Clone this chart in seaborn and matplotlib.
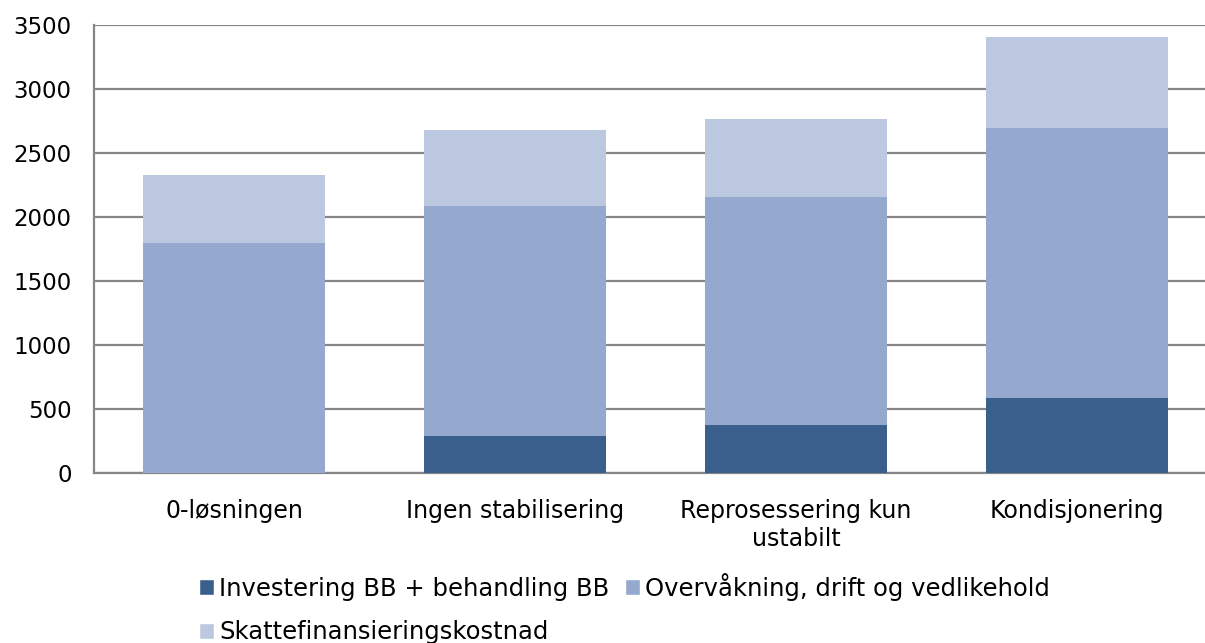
import numpy as np
import pandas as pd
import matplotlib
matplotlib.use("Agg")
import matplotlib.pyplot as plt
from matplotlib.patches import Patch
import seaborn as sns

sns.set_style("white")
plt.rcParams['font.family'] = ['DejaVu Sans']

categories = ['0-løsningen', 'Ingen stabilisering', 'Reprosessering kun\nustabilt', 'Kondisjonering']
investering = [0, 290, 375, 583]
overvaakning = [1800, 1798, 1784, 2112]
skatt = [528, 594, 609, 714]

series_names = ['Investering BB + behandling BB', 'Overvåkning, drift og vedlikehold', 'Skattefinansieringskostnad']
colors = ['#3B5F8D', '#95A9CF', '#BCC8E0']

df = pd.DataFrame({'kategori': categories,
                   'inv': investering,
                   'ove': overvaakning,
                   'ska': skatt})
df['lvl1'] = df['inv']
df['lvl2'] = df['inv'] + df['ove']
df['lvl3'] = df['lvl2'] + df['ska']

fig = plt.figure(figsize=(12.05, 6.43), dpi=100)
ax = fig.add_axes([94/1205, 170/643, (1217-94)/1205, 448/643])

sns.barplot(data=df, x='kategori', y='lvl3', color=colors[2], width=0.648, saturation=1, ax=ax, zorder=2)
sns.barplot(data=df, x='kategori', y='lvl2', color=colors[1], width=0.648, saturation=1, ax=ax, zorder=3)
sns.barplot(data=df, x='kategori', y='lvl1', color=colors[0], width=0.648, saturation=1, ax=ax, zorder=4)
for p in ax.patches:
    p.set_edgecolor('none')
    p.set_linewidth(0)

ax.set_ylim(0, 3500)
ax.set_xlim(-0.5, 3.5)
ax.set_yticks(np.arange(0, 3501, 500))
ax.yaxis.grid(True, color='#868686', linewidth=1.6, zorder=0)
ax.set_axisbelow(True)
ax.set_xlabel('')
ax.set_ylabel('')
for s in ['top', 'right']:
    ax.spines[s].set_visible(False)
ax.spines['left'].set_color('#868686')
ax.spines['left'].set_linewidth(1.6)
ax.spines['bottom'].set_color('#868686')
ax.spines['bottom'].set_linewidth(1.6)
ax.tick_params(axis='x', length=0, labelsize=17, colors='black', pad=19)
ax.tick_params(axis='y', length=0, labelsize=16.5, colors='black', pad=16)
for t in ax.get_xticklabels():
    t.set_linespacing(1.2)

handles = [Patch(facecolor=colors[0]), Patch(facecolor=colors[2]), Patch(facecolor=colors[1])]
labels = [series_names[0], series_names[2], series_names[1]]
fig.legend(handles, labels, ncol=2, loc='upper left', bbox_to_anchor=(199/1205, 1 - 573/643),
           frameon=False, prop={'family': 'DejaVu Sans', 'size': 17.5}, labelcolor='black',
           handlelength=0.62, handleheight=0.62, handletextpad=0.2, columnspacing=0.65,
           labelspacing=0.8, borderaxespad=0, borderpad=0)

fig.savefig('out.png', dpi=100)
